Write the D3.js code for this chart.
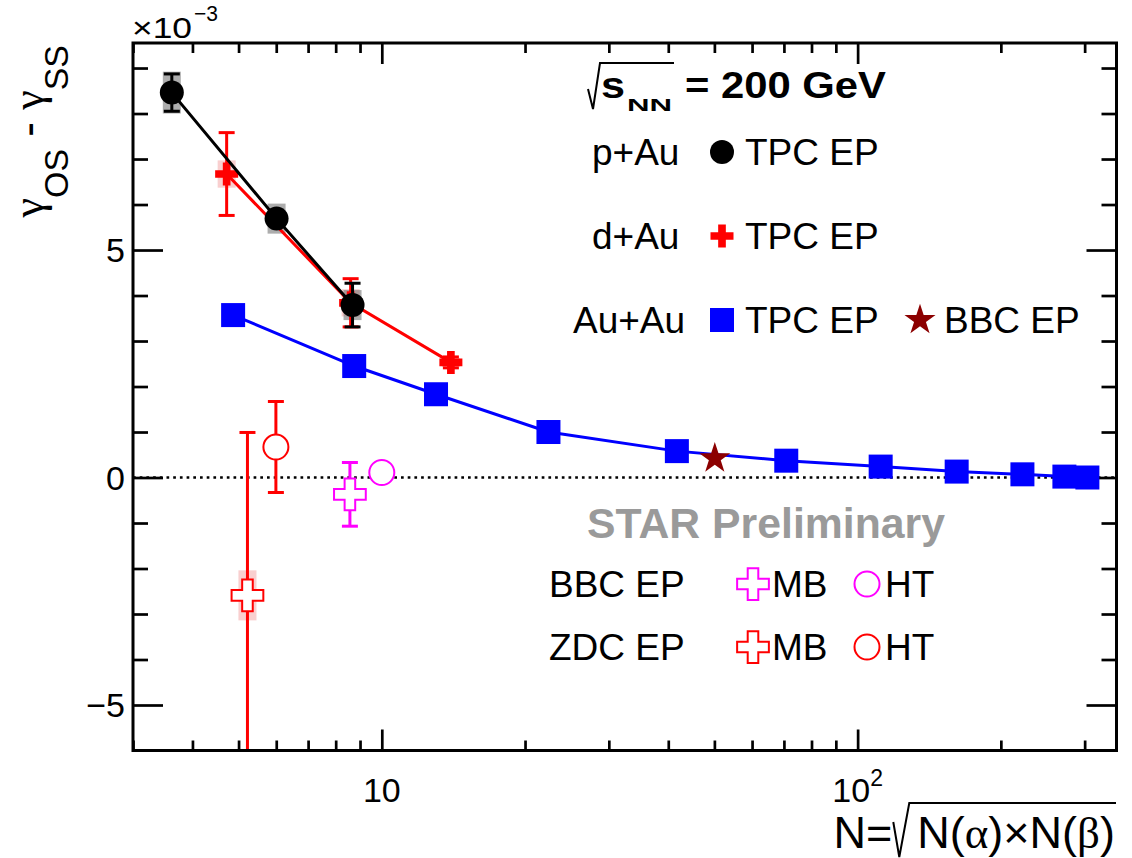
<!DOCTYPE html>
<html>
<head>
<meta charset="utf-8">
<script src="https://cdn.jsdelivr.net/npm/d3@7"></script>
<style>
body { margin: 0; background: #fff; }
text { font-family: "Liberation Sans", Arial, Helvetica, sans-serif; }
.greek { font-family: "Liberation Serif", "Times New Roman", serif; }
</style>
</head>
<body>
<div id="chart"></div>
<script>
// p+Au, TPC EP
var pAuN = [3.62, 6.01, 8.68];
var pAuG = [8.46, 5.69, 3.79];
var pAuStat = [0.41, 0.15, 0.48];
var pAuSys = [0.46, 0.33, 0.33];

// d+Au, TPC EP
var dAuN = [4.72, 8.6, 13.97];
var dAuG = [6.67, 3.84, 2.53];
var dAuStat = [0.91, 0.53, 0.12];
var dAuSys = [0.30, 0.30, 0.10];

// Au+Au, TPC EP
var auAuN = [4.87, 8.75, 13.0, 22.4, 41.7, 70.8, 111.8, 161.5, 222, 272, 304];
var auAuG = [3.57, 2.45, 1.83, 1.00, 0.58, 0.37, 0.24, 0.13, 0.07, 0.02, 0.0];

// Au+Au, BBC EP
var auAuBbcN = [50.1];
var auAuBbcG = [0.42];

// BBC EP (MB, HT)
var bbcMbN = [8.57], bbcMbG = [-0.37], bbcMbStat = [0.70];
var bbcHtN = [10.0], bbcHtG = [0.11], bbcHtStat = [0.0];

// ZDC EP (MB, HT)
var zdcMbN = [5.22], zdcMbG = [-2.59], zdcMbStat = [3.58], zdcMbSys = [0.55];
var zdcHtN = [5.99], zdcHtG = [0.67], zdcHtStat = [1.0];

// ticks
var xMajor = [10, 100];
var xMinor = [3, 4, 5, 6, 7, 8, 9, 20, 30, 40, 50, 60, 70, 80, 90, 200, 300];
var yMajor = [-5, 0, 5];
var yMinor = [-4, -3, -2, -1, 1, 2, 3, 4, 6, 7, 8, 9];
var yLabels = ["\u22125", "0", "5"];

var W = 1132, H = 858;
var pL = 133, pR = 1116.5, pT = 43, pB = 750.5;

var svg = d3.select("#chart").append("svg")
   .attr("width", W).attr("height", H);
svg.append("rect").attr("width", W).attr("height", H).attr("fill", "#fff");

var x = d3.scaleLog().domain([3, 350]).range([pL, pR]);
var y = d3.scaleLinear().domain([-6, 9.55]).range([pB, pT]);

var RED = "#ff0000", BLUE = "#0000ff", MAG = "#ff00ff", STAR = "#8c0000";

// ---- axes (ROOT style: ticks on all four sides, pointing inward)
function ticks(axis, tr, size) {
   var g = svg.append("g").attr("transform", tr).call(axis.tickSize(size).tickFormat(""));
   g.select(".domain").remove();
   g.selectAll("line").attr("stroke", "#000").attr("stroke-width", 2.7);
}
ticks(d3.axisBottom(x).tickValues(xMajor), "translate(0," + pB + ")", -21);
ticks(d3.axisBottom(x).tickValues(xMinor), "translate(0," + pB + ")", -10);
ticks(d3.axisTop(x).tickValues(xMajor), "translate(0," + pT + ")", -21);
ticks(d3.axisTop(x).tickValues(xMinor), "translate(0," + pT + ")", -10);
ticks(d3.axisLeft(y).tickValues(yMajor), "translate(" + pL + ",0)", -30);
ticks(d3.axisLeft(y).tickValues(yMinor), "translate(" + pL + ",0)", -15);
ticks(d3.axisRight(y).tickValues(yMajor), "translate(" + pR + ",0)", -30);
ticks(d3.axisRight(y).tickValues(yMinor), "translate(" + pR + ",0)", -15);

// y tick labels
svg.selectAll(".ylab").data(yMajor).enter().append("text")
   .attr("x", pL - 8).attr("y", function(d) { return y(d) + 12; })
   .attr("text-anchor", "end").attr("font-size", 34)
   .text(function(d, i) { return yLabels[i]; });

// x tick labels
svg.append("text").attr("x", x(10)).attr("y", 802)
   .attr("text-anchor", "middle").attr("font-size", 34).text("10");
var l100 = svg.append("text").attr("x", x(100)).attr("y", 802)
   .attr("text-anchor", "middle").attr("font-size", 34);
l100.append("tspan").text("10");
l100.append("tspan").attr("font-size", 23).attr("dy", -16).text("2");

// exponent
svg.append("text").attr("x", 132).attr("y", 38).attr("font-size", 30)
   .attr("textLength", 60).attr("lengthAdjust", "spacingAndGlyphs").text("\u00d710");
svg.append("text").attr("x", 194).attr("y", 21).attr("font-size", 22)
   .attr("textLength", 24).attr("lengthAdjust", "spacingAndGlyphs").text("\u22123");

// zero line
svg.append("line")
   .attr("x1", pL).attr("x2", pR).attr("y1", y(0)).attr("y2", y(0))
   .attr("stroke", "#000").attr("stroke-width", 2.6).attr("stroke-dasharray", "2.7,4");

// ---- markers
function marker(g, type, cx, cy, color) {
   if (type == "circle") {
      g.append("circle").attr("cx", cx).attr("cy", cy).attr("r", 12).attr("fill", color);
   } else if (type == "ocircle") {
      g.append("circle").attr("cx", cx).attr("cy", cy).attr("r", 12.5)
         .attr("fill", "#fff").attr("stroke", color).attr("stroke-width", 2);
   } else if (type == "square") {
      g.append("rect").attr("x", cx - 12).attr("y", cy - 12).attr("width", 24).attr("height", 24)
         .attr("fill", color);
   } else if (type == "fcross") {
      g.append("path").attr("transform", "translate(" + cx + "," + cy + ")")
         .attr("d", d3.symbol().type(d3.symbolCross).size(294)()).attr("fill", color);
   } else if (type == "ocross") {
      g.append("path").attr("transform", "translate(" + cx + "," + cy + ")")
         .attr("d", d3.symbol().type(d3.symbolCross).size(560)())
         .attr("fill", "#fff").attr("stroke", color).attr("stroke-width", 2);
   } else if (type == "star") {
      g.append("path").attr("transform", "translate(" + cx + "," + cy + ")")
         .attr("d", d3.symbol().type(d3.symbolStar).size(300)()).attr("fill", color);
   }
}

function sysBoxes(ns, gs, sys, fill, op) {
   svg.append("g").selectAll("rect").data(ns).enter().append("rect")
      .attr("x", function(d) { return x(d) - 9; })
      .attr("y", function(d, i) { return y(gs[i] + sys[i]); })
      .attr("width", 18)
      .attr("height", function(d, i) { return y(gs[i] - sys[i]) - y(gs[i] + sys[i]); })
      .attr("fill", fill).attr("opacity", op);
}

function errBars(ns, gs, stat, color) {
   var g = svg.append("g").attr("stroke", color).attr("stroke-width", 3);
   ns.forEach(function(n, i) {
      if (!stat[i]) return;
      var hi = y(Math.min(gs[i] + stat[i], 9.55)), lo = y(Math.max(gs[i] - stat[i], -6));
      var cx = x(n);
      g.append("line").attr("x1", cx).attr("x2", cx).attr("y1", hi).attr("y2", lo);
      g.append("line").attr("x1", cx - 8).attr("x2", cx + 8).attr("y1", hi).attr("y2", hi);
      g.append("line").attr("x1", cx - 8).attr("x2", cx + 8).attr("y1", lo).attr("y2", lo);
   });
}

function series(ns, gs, type, color, withLine) {
   if (withLine) {
      svg.append("path").datum(ns)
         .attr("d", d3.line().x(function(d) { return x(d); }).y(function(d, i) { return y(gs[i]); }))
         .attr("fill", "none").attr("stroke", color).attr("stroke-width", 3);
   }
   var g = svg.append("g");
   ns.forEach(function(n, i) { marker(g, type, x(n), y(gs[i]), color); });
}

// systematic boxes
sysBoxes(zdcMbN, zdcMbG, zdcMbSys, "#f4a0a0", 0.5);
sysBoxes(dAuN, dAuG, dAuSys, "#f4a0a0", 0.5);
sysBoxes(pAuN, pAuG, pAuSys, "#777", 0.6);

// ZDC / BBC points
errBars(zdcMbN, zdcMbG, zdcMbStat, RED);
errBars(zdcHtN, zdcHtG, zdcHtStat, RED);
errBars(bbcMbN, bbcMbG, bbcMbStat, MAG);
series(zdcMbN, zdcMbG, "ocross", RED, false);
series(zdcHtN, zdcHtG, "ocircle", RED, false);
series(bbcMbN, bbcMbG, "ocross", MAG, false);
series(bbcHtN, bbcHtG, "ocircle", MAG, false);

// Au+Au
series(auAuN, auAuG, "square", BLUE, true);
series(auAuBbcN, auAuBbcG, "star", STAR, false);

// d+Au
errBars(dAuN, dAuG, dAuStat, RED);
series(dAuN, dAuG, "fcross", RED, true);

// p+Au
errBars(pAuN, pAuG, pAuStat, "#000");
series(pAuN, pAuG, "circle", "#000", true);

// frame
svg.append("rect").attr("x", pL).attr("y", pT)
   .attr("width", pR - pL).attr("height", pB - pT)
   .attr("fill", "none").attr("stroke", "#000").attr("stroke-width", 3);

// ---- legend / labels
var legText = [
   {t: "p+Au", x: 592, y: 165}, {t: "TPC EP", x: 745, y: 165},
   {t: "d+Au", x: 592, y: 249}, {t: "TPC EP", x: 745, y: 249},
   {t: "Au+Au", x: 573, y: 333}, {t: "TPC EP", x: 745, y: 333}, {t: "BBC EP", x: 944, y: 333},
   {t: "BBC EP", x: 549, y: 597}, {t: "MB", x: 772, y: 597}, {t: "HT", x: 885, y: 597},
   {t: "ZDC EP", x: 549, y: 660}, {t: "MB", x: 772, y: 660}, {t: "HT", x: 885, y: 660}
];
svg.selectAll(".leg").data(legText).enter().append("text")
   .attr("x", function(d) { return d.x; }).attr("y", function(d) { return d.y; })
   .attr("font-size", 37).text(function(d) { return d.t; });

var lg = svg.append("g");
marker(lg, "circle", 722, 152, "#000");
marker(lg, "fcross", 722, 236, RED);
marker(lg, "square", 722, 320, BLUE);
marker(lg, "star", 920, 320, STAR);
marker(lg, "ocross", 753, 584, MAG);
marker(lg, "ocircle", 867, 584, MAG);
marker(lg, "ocross", 753, 647, RED);
marker(lg, "ocircle", 867, 647, RED);

svg.append("text").attr("x", 587).attr("y", 538)
   .attr("font-size", 42).attr("font-weight", "bold").attr("fill", "#9a9a9a")
   .attr("textLength", 358).attr("lengthAdjust", "spacingAndGlyphs")
   .text("STAR Preliminary");

// sqrt(s_NN) = 200 GeV
svg.append("path").attr("d", "M588,89 L593,109 L600,63 L674,63")
   .attr("fill", "none").attr("stroke", "#000").attr("stroke-width", 2);
svg.append("text").attr("x", 601).attr("y", 98)
   .attr("font-size", 36).attr("font-weight", "bold")
   .attr("textLength", 24).attr("lengthAdjust", "spacingAndGlyphs").text("s");
svg.append("text").attr("x", 627).attr("y", 111)
   .attr("font-size", 16).attr("font-weight", "bold")
   .attr("textLength", 45).attr("lengthAdjust", "spacingAndGlyphs").text("NN");
svg.append("text").attr("x", 685).attr("y", 98)
   .attr("font-size", 36).attr("font-weight", "bold")
   .attr("textLength", 201).attr("lengthAdjust", "spacingAndGlyphs").text("= 200 GeV");

// y title
var yt = svg.append("text").attr("transform", "translate(43,45) rotate(-90)")
   .attr("text-anchor", "end").attr("font-size", 44);
yt.append("tspan").attr("class", "greek").text("\u03b3");
yt.append("tspan").attr("font-size", 34).attr("dy", 25).text("OS");
yt.append("tspan").attr("dy", -25).text(" - ");
yt.append("tspan").attr("class", "greek").text("\u03b3");
yt.append("tspan").attr("font-size", 34).attr("dy", 25).text("SS");

// x title
var xt2 = svg.append("text").attr("x", 1115).attr("y", 848)
   .attr("text-anchor", "end").attr("font-size", 45);
xt2.append("tspan").text("N(");
xt2.append("tspan").attr("class", "greek").text("\u03b1");
xt2.append("tspan").text(")\u00d7N(");
xt2.append("tspan").attr("class", "greek").text("\u03b2");
xt2.append("tspan").text(")");
var w2 = xt2.node().getComputedTextLength();
var rx = 1115 - w2 - 6;
svg.append("path").attr("d", "M" + (rx - 18) + ",822 L" + (rx - 12) + ",857 L" + (rx - 2) + ",803 L1116,803")
   .attr("fill", "none").attr("stroke", "#000").attr("stroke-width", 2);
svg.append("text").attr("x", rx - 19).attr("y", 848)
   .attr("text-anchor", "end").attr("font-size", 45).text("N=");
</script>
</body>
</html>
